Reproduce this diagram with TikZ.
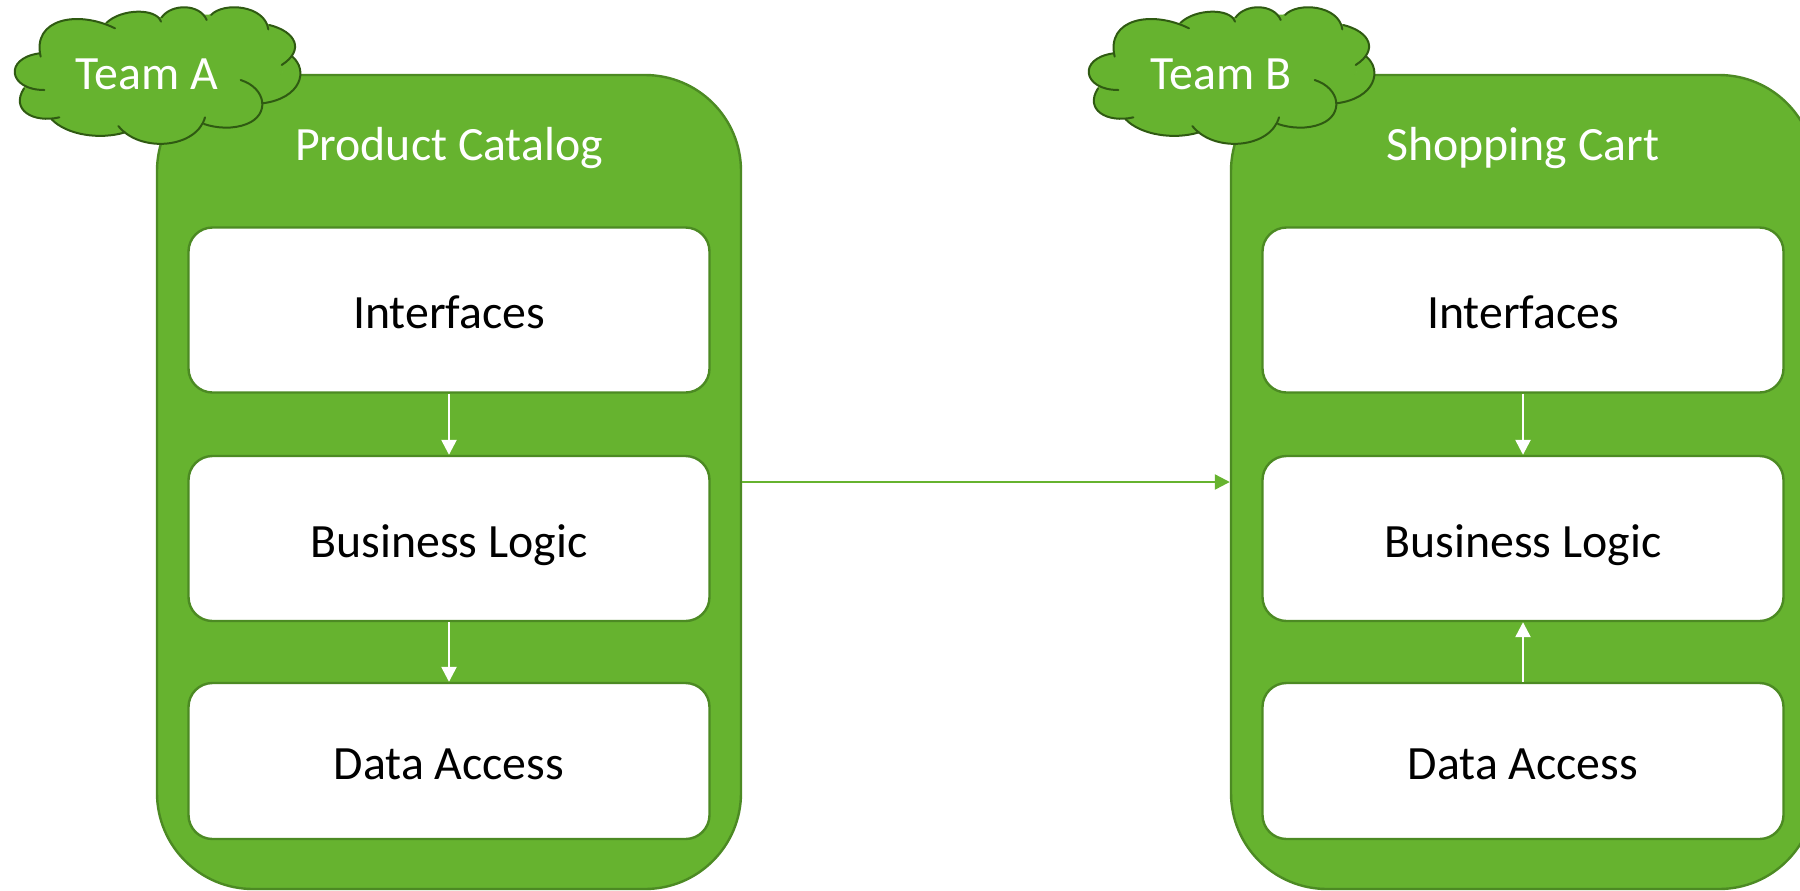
\documentclass[tikz,border=0pt]{standalone}
\usepackage{fontspec}
\setmainfont{Carlito}
\usetikzlibrary{arrows.meta}
\definecolor{gfill}{HTML}{66B32F}
\definecolor{gline}{HTML}{4C8A23}
\definecolor{cline}{HTML}{2F5A12}
\tikzset{
  service/.style={draw=gline,fill=gfill,line width=1.2pt,rounded corners=48pt,minimum width=292pt,minimum height=407pt,inner sep=0pt},
  layer/.style={draw=gline,fill=white,line width=1.2pt,rounded corners=12pt,minimum width=260.5pt,inner sep=0pt,text=black,font=\fontsize{23.9}{28}\selectfont,text height=18.5pt,text depth=0pt},
  title/.style={text=white,font=\fontsize{23.9}{28}\selectfont,inner sep=0pt,anchor=base},
  flowin/.style={draw=white,line width=1.25pt,-{Triangle[length=7.5pt,width=7.5pt]}},
  flowout/.style={draw=gfill,line width=1.1pt,-{Triangle[length=7.5pt,width=7.5pt]}},
  lobe/.style={draw=cline,line width=1pt,line cap=round},
}
\newcommand{\cloudlobes}[1]{%
\path[#1] (122,170) .. controls (95,55) and (235,30) .. (345,85);
\path[#1] (320,68) .. controls (365,25) and (470,24) .. (483,65);
\path[#1] (485,52) .. controls (515,10) and (600,11) .. (620,60);
\path[#1] (633,45) .. controls (670,5) and (795,15) .. (805,88);
\path[#1] (808,75) .. controls (888,95) and (915,150) .. (845,195);
\path[#1] (877,170) .. controls (925,210) and (905,295) .. (787,310);
\path[#1] (722,240) .. controls (800,265) and (810,345) .. (740,372) .. controls (700,388) and (650,385) .. (612,372);
\path[#1] (615,352) .. controls (590,445) and (420,460) .. (355,378);
\path[#1] (375,397) .. controls (300,420) and (200,405) .. (155,358);
\path[#1] (178,352) .. controls (100,370) and (30,330) .. (72,265);
\path[#1] (133,270) .. controls (25,270) and (10,175) .. (118,160);
}
\newcommand{\teamcloud}[3]{%
\begin{scope}[xshift=#1pt,x=0.16667pt,y=-0.16667pt]
\cloudlobes{fill=gfill}
\draw[gfill,fill=gfill,line width=0.6pt] (118,160) -- (320,68) -- (487,52) -- (633,45) -- (808,75) -- (877,170) -- (787,310) -- (612,372) -- (375,397) -- (155,358) -- (72,265) -- cycle;
\cloudlobes{lobe}
\node[title] (#2) at (440,269) {#3};
\end{scope}}
\begin{document}
\begin{tikzpicture}[x=0.5pt,y=-0.5pt]
\useasboundingbox (0,0) rectangle (1800,890);
\node[service] (pc) at (449,482) {};
\node[service] (sc) at (1523,482) {};
\node[title] (pct) at (449,160) {Product Catalog};
\node[title] (sct) at (1523,160) {Shopping Cart};
\node[layer,minimum height=82.5pt] (ai) at (449,310) {Interfaces};
\node[layer,minimum height=82.5pt] (ab) at (449,538.5) {Business Logic};
\node[layer,minimum height=78pt] (ad) at (449,761) {Data Access};
\node[layer,minimum height=82.5pt] (bi) at (1523,310) {Interfaces};
\node[layer,minimum height=82.5pt] (bb) at (1523,538.5) {Business Logic};
\node[layer,minimum height=78pt] (bd) at (1523,761) {Data Access};
\draw[flowin] (ai.south) -- (ab.north);
\draw[flowin] (ab.south) -- (ad.north);
\draw[flowin] (bi.south) -- (bb.north);
\draw[flowin] (bd.north) -- (bb.south);
\draw[flowout] (pc.east) -- (sc.west);
\teamcloud{0}{ta}{Team A}
\teamcloud{537}{tb}{Team B}
\end{tikzpicture}
\end{document}
